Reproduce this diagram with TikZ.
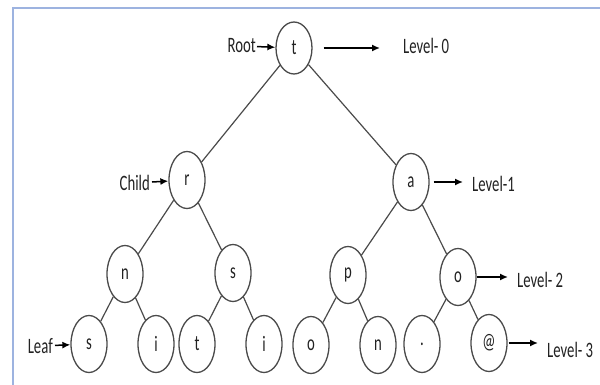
\documentclass[tikz,border=0pt]{standalone}
\usepackage{fontspec}
\setmainfont{Carlito}
\usetikzlibrary{shapes.geometric,arrows.meta}
\definecolor{frameblue}{HTML}{9DB3E0}
\definecolor{edgegray}{HTML}{4A4A4A}
\definecolor{txt}{HTML}{222222}
\newcommand{\sx}[1]{\scalebox{0.67}[1]{#1}}
\tikzset{
  treenode/.style={draw=edgegray, line width=1.3pt, ellipse, minimum width=36pt, minimum height=57pt, inner sep=0pt, text=txt, font=\fontsize{22}{26}\selectfont},
  lbl/.style={inner sep=0pt, text=txt, font=\fontsize{22}{26}\selectfont},
  edge/.style={draw=edgegray, line width=1.2pt},
  pointer/.style={draw=black, line width=1.5pt, -{Latex[length=8pt,width=7pt]}}
}
\begin{document}
\begin{tikzpicture}[x=1pt,y=-1pt]
\useasboundingbox (0,0) rectangle (600,385);
% frame
\draw[frameblue, line width=2pt] (13,385) -- (13,8) -- (600,8);
% tree nodes
\node[treenode, minimum height=52pt] (t) at (294,48) {\sx{t}};
\node[treenode] (r) at (187,180) {\sx{r}};
\node[treenode] (a) at (411,182) {\sx{a}};
\node[treenode] (n) at (125,274) {\sx{n}};
\node[treenode] (s) at (233,273) {\sx{s}};
\node[treenode] (p) at (348,275) {\sx{p}};
\node[treenode] (o) at (458,277) {\sx{o}};
\node[treenode] (l1) at (89,344) {\sx{s}};
\node[treenode] (l2) at (156,344) {\sx{i}};
\node[treenode] (l3) at (197,344) {\sx{t}};
\node[treenode] (l4) at (264,344) {\sx{i}};
\node[treenode] (l5) at (311,345) {\sx{o}};
\node[treenode] (l6) at (378,345) {\sx{n}};
\node[treenode] (l7) at (422,344) {\sx{.}};
\node[treenode] (l8) at (489,343) {\sx{@}};
% edges
\draw[edge] (t) -- (r);
\draw[edge] (t) -- (a);
\draw[edge] (r) -- (n);
\draw[edge] (r) -- (s);
\draw[edge] (a) -- (p);
\draw[edge] (a) -- (o);
\draw[edge] (n) -- (l1);
\draw[edge] (n) -- (l2);
\draw[edge] (s) -- (l3);
\draw[edge] (s) -- (l4);
\draw[edge] (p) -- (l5);
\draw[edge] (p) -- (l6);
\draw[edge] (o) -- (l7);
\draw[edge] (o) -- (l8);
% labels
\node[lbl, anchor=east] (root) at (256,46) {\sx{Root}};
\node[lbl, anchor=east] (child) at (150,183) {\sx{Child}};
\node[lbl, anchor=east] (leaf) at (53,346) {\sx{Leaf}};
\node[lbl, anchor=west] (lv0) at (403,46) {\sx{Level- 0}};
\node[lbl, anchor=west] (lv1) at (472,184) {\sx{Level-1}};
\node[lbl, anchor=west] (lv2) at (517,280) {\sx{Level- 2}};
\node[lbl, anchor=west] (lv3) at (547,350) {\sx{Level- 3}};
% pointers
\draw[pointer, shorten <=1pt] (root) -- (t);
\draw[pointer, shorten <=2pt] (child) -- (r);
\draw[pointer, shorten <=2pt] (leaf) -- (l1);
\draw[pointer, shorten <=11pt, shorten >=23pt] (t) -- (t -| lv0.west);
\draw[pointer, shorten <=4pt, shorten >=9pt] (a) -- (a -| lv1.west);
\draw[pointer, shorten <=0pt, shorten >=9pt] (o) -- (o -| lv2.west);
\draw[pointer, shorten <=1pt, shorten >=9pt] (l8) -- (l8 -| lv3.west);
\end{tikzpicture}
\end{document}
